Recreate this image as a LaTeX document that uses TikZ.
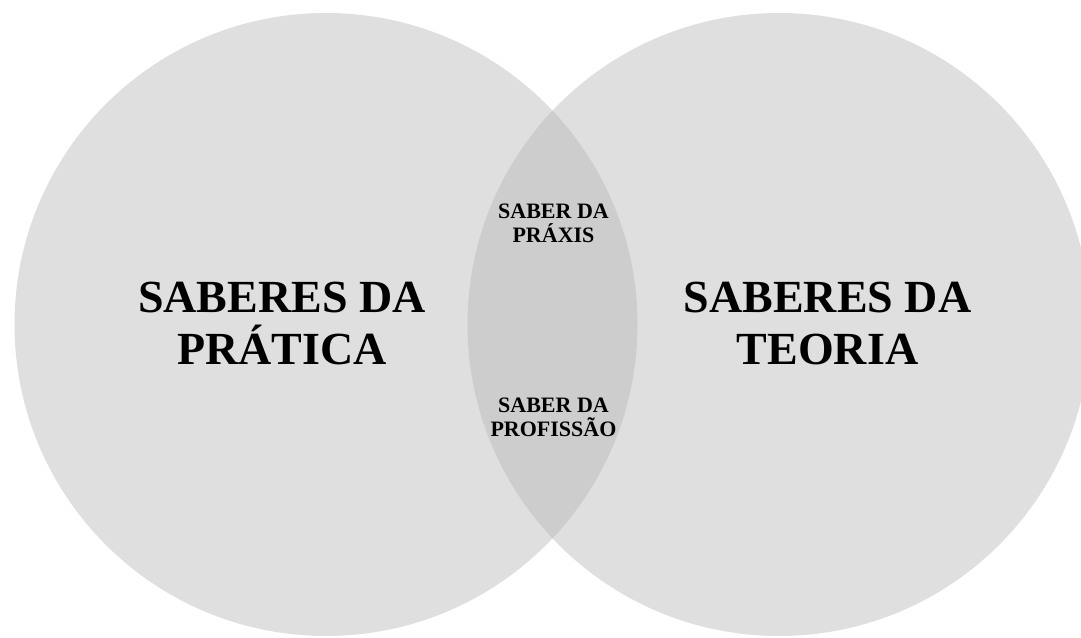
\documentclass[tikz,border=0pt]{standalone}
\usepackage{fontspec}
\setmainfont{Liberation Serif}
\definecolor{circfill}{RGB}{223,223,223}
\definecolor{lensfill}{RGB}{205,205,205}
\tikzset{
  setcircle/.style={circle, fill=circfill, draw=none, minimum size=623pt, inner sep=0pt},
  bigtxt/.style={font=\bfseries\fontsize{46}{52}\selectfont, align=center, anchor=base, inner sep=0pt},
  smalltxt/.style={font=\bfseries\fontsize{22}{24.5}\selectfont, align=center, anchor=base, inner sep=0pt}
}
\begin{document}
\begin{tikzpicture}[x=1pt,y=1pt]
\useasboundingbox (0,0) rectangle (1081,637);
\node[setcircle] (L) at (326,312.5) {};
\node[setcircle] (R) at (779,312.5) {};
\begin{scope}
  \clip (L.center) circle (311.5);
  \fill[lensfill] (R.center) circle (311.5);
\end{scope}
\node[bigtxt] (prat) at (282,272) {SABERES DA\\PRÁTICA};
\node[bigtxt] (teor) at (827.5,272) {SABERES DA\\TEORIA};
\node[smalltxt] (praxis) at (553.5,394) {SABER DA\\PRÁXIS};
\node[smalltxt] (prof) at (553.5,200) {SABER DA\\PROFISSÃO};
\end{tikzpicture}
\end{document}
